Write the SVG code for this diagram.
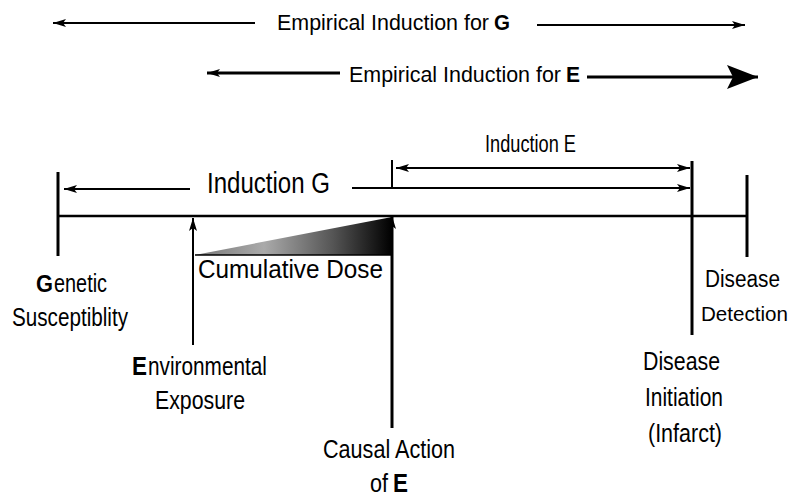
<svg xmlns="http://www.w3.org/2000/svg" width="792" height="497" viewBox="0 0 792 497">
<style>
  text { font-family: "Liberation Sans", Arial, sans-serif; fill: #000; }
  .emp { font-size: 22px; }
  .lab { font-size: 25px; }
  .b { font-weight: bold; }
  .ln { stroke: #000; fill: none; stroke-width: 2.5; }
  .thin { stroke: #000; fill: none; stroke-width: 2; }
  .thick { stroke: #000; fill: none; stroke-width: 3; }
</style>
<defs>
  <marker id="ah" markerUnits="userSpaceOnUse" markerWidth="14" markerHeight="10" refX="13" refY="5" orient="auto-start-reverse">
    <path d="M0,1 L13,5 L0,9 L3,5 z" fill="#000"/>
  </marker>
  <marker id="ahBig" markerUnits="userSpaceOnUse" markerWidth="32" markerHeight="28" refX="31" refY="14" orient="auto">
    <path d="M0,2 L31,14 L0,26 L6,14 z" fill="#000"/>
  </marker>
  <linearGradient id="dose" x1="195" y1="0" x2="392" y2="0" gradientUnits="userSpaceOnUse">
    <stop offset="0" stop-color="#777"/>
    <stop offset="0.35" stop-color="#aaa"/>
    <stop offset="0.7" stop-color="#555"/>
    <stop offset="1" stop-color="#000"/>
  </linearGradient>
</defs>

<g id="connectors">
  <line class="thin" x1="255" y1="23" x2="53" y2="23" marker-end="url(#ah)"/>
  <line class="thin" x1="537" y1="25" x2="745" y2="25" marker-end="url(#ah)"/>
  <line class="thick" x1="340" y1="73" x2="207" y2="73" marker-end="url(#ah)"/>
  <line class="thick" x1="587" y1="77" x2="758" y2="77" marker-end="url(#ahBig)"/>
  <line class="thin" x1="396" y1="168" x2="690" y2="168" marker-start="url(#ah)" marker-end="url(#ah)"/>
  <line class="thin" x1="392" y1="160" x2="392" y2="188"/>
  <line class="thin" x1="190" y1="189" x2="64" y2="189" marker-end="url(#ah)"/>
  <line class="thin" x1="352" y1="188" x2="690" y2="188" marker-end="url(#ah)"/>
  <line class="ln" x1="58" y1="216" x2="747" y2="216"/>
  <line class="thick" x1="58" y1="172" x2="58" y2="256"/>
  <line class="thick" x1="747" y1="175" x2="747" y2="257"/>
  <line class="thick" x1="692" y1="161" x2="692" y2="335"/>
  <line class="thin" x1="193" y1="345" x2="193" y2="218" marker-end="url(#ah)"/>
  <line class="thick" x1="392" y1="428" x2="392" y2="216" marker-end="url(#ah)"/>
</g>

<g id="cumulative-dose">
  <polygon points="195,255 392,217 392,255" fill="url(#dose)"/>
  <line x1="195" y1="255" x2="392" y2="255" stroke="#000" stroke-width="1.5"/>
  <text x="198" y="278" font-size="26" textLength="185" lengthAdjust="spacingAndGlyphs">Cumulative Dose</text>
</g>

<g id="empirical-g">
  <text class="emp" x="277" y="30" textLength="212" lengthAdjust="spacingAndGlyphs">Empirical Induction for</text>
  <text class="emp b" x="494" y="30" textLength="16" lengthAdjust="spacingAndGlyphs">G</text>
</g>
<g id="empirical-e">
  <text class="emp" x="349" y="82" textLength="212" lengthAdjust="spacingAndGlyphs">Empirical Induction for</text>
  <text class="emp b" x="566" y="82" textLength="14" lengthAdjust="spacingAndGlyphs">E</text>
</g>
<g id="induction-e">
  <text x="485" y="152" font-size="23" textLength="91" lengthAdjust="spacingAndGlyphs">Induction E</text>
</g>
<g id="induction-g">
  <text x="207" y="193" font-size="29" textLength="123" lengthAdjust="spacingAndGlyphs">Induction G</text>
</g>

<g id="genetic-susceptibility">
  <text class="b" x="36" y="292" font-size="23" textLength="17" lengthAdjust="spacingAndGlyphs">G</text>
  <text class="lab" x="54" y="292" textLength="53" lengthAdjust="spacingAndGlyphs">enetic</text>
  <text class="lab" x="12" y="326" textLength="116" lengthAdjust="spacingAndGlyphs">Susceptiblity</text>
</g>
<g id="environmental-exposure">
  <text class="lab b" x="132" y="375" textLength="15" lengthAdjust="spacingAndGlyphs">E</text>
  <text class="lab" x="148" y="375" textLength="119" lengthAdjust="spacingAndGlyphs">nvironmental</text>
  <text class="lab" x="155" y="409" textLength="90" lengthAdjust="spacingAndGlyphs">Exposure</text>
</g>
<g id="causal-action">
  <text class="lab" x="323" y="458" textLength="132" lengthAdjust="spacingAndGlyphs">Causal Action</text>
  <text class="lab" x="370" y="492" textLength="18" lengthAdjust="spacingAndGlyphs">of</text>
  <text class="lab b" x="393" y="492" textLength="15" lengthAdjust="spacingAndGlyphs">E</text>
</g>
<g id="disease-initiation">
  <text class="lab" x="643" y="370" textLength="77" lengthAdjust="spacingAndGlyphs">Disease</text>
  <text class="lab" x="645" y="406" textLength="78" lengthAdjust="spacingAndGlyphs">Initiation</text>
  <text class="lab" x="648" y="442" textLength="74" lengthAdjust="spacingAndGlyphs">(Infarct)</text>
</g>
<g id="disease-detection">
  <text x="705" y="287" font-size="23" textLength="75" lengthAdjust="spacingAndGlyphs">Disease</text>
  <text x="701" y="321" font-size="21" textLength="87" lengthAdjust="spacingAndGlyphs">Detection</text>
</g>
</svg>
